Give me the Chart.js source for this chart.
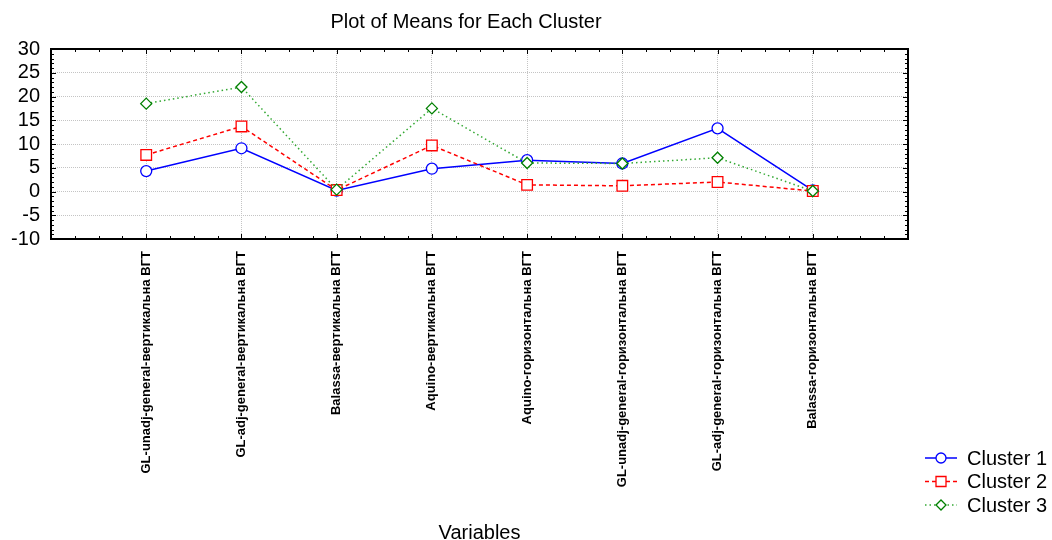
<!DOCTYPE html>
<html><head><meta charset="utf-8">
<script src="https://cdn.jsdelivr.net/npm/chart.js@4"></script>
<style>html,body{margin:0;padding:0;background:#fff}#wrap{width:1052px;height:540px}</style>
</head><body><div id="wrap"><canvas id="c"></canvas></div>
<script>
const categories = [
  'GL-unadj-general-вертикальна ВГТ',
  'GL-adj-general-вертикальна ВГТ',
  'Balassa-вертикальна ВГТ',
  'Aquino-вертикальна ВГТ',
  'Aquino-горизонтальна ВГТ',
  'GL-unadj-general-горизонтальна ВГТ',
  'GL-adj-general-горизонтальна ВГТ',
  'Balassa-горизонтальна ВГТ'
];
const cluster1 = [4.3, 9.1, 0.2, 4.8, 6.6, 5.9, 13.3, 0.25];
const cluster2 = [7.7, 13.7, 0.3, 9.7, 1.4, 1.2, 2.0, 0.1];
const cluster3 = [18.5, 22.0, 0.4, 17.5, 6.0, 5.9, 7.1, 0.1];
const seriesNames = ['Cluster 1', 'Cluster 2', 'Cluster 3'];
const yMin = -10, yMax = 30, yStep = 5;
const chartTitle = 'Plot of Means for Each Cluster';
const xTitle = 'Variables';

const FONT = 'Arial, "Liberation Sans", sans-serif';
const toPts = arr => arr.map((v, i) => ({x: i + 1, y: v}));
const xMaxV = categories.length + 1;

const framePlugin = {
  id: 'frame',
  afterDraw(chart) {
    const {ctx, chartArea: a, scales: {x, y}} = chart;
    ctx.save();
    ctx.strokeStyle = '#000';
    ctx.lineWidth = 1;
    const ln = (x1, y1, x2, y2) => { ctx.beginPath(); ctx.moveTo(x1, y1); ctx.lineTo(x2, y2); ctx.stroke(); };
    for (let k = 0; k <= xMaxV * 4; k++) {
      const v = k / 4;
      const px = Math.round(x.getPixelForValue(v)) + 0.5;
      const len = (k % 4 === 0) ? 5 : 3;
      ln(px, a.bottom, px, a.bottom - len);
      ln(px, a.top, px, a.top + len);
    }
    for (let v = yMin; v <= yMax; v++) {
      const py = Math.round(y.getPixelForValue(v)) + 0.5;
      const len = (v % yStep === 0) ? 5 : 3;
      ln(a.left, py, a.left + len, py);
      ln(a.right, py, a.right - len, py);
    }
    ctx.lineWidth = 2;
    ctx.strokeRect(a.left, a.top, a.right - a.left, a.bottom - a.top);
    // chart title
    ctx.fillStyle = '#000';
    ctx.font = '20px ' + FONT;
    ctx.textAlign = 'center';
    ctx.textBaseline = 'middle';
    ctx.fillText(chartTitle, 466, 22);
    ctx.restore();
  }
};

function drawMarker(ctx, style, cx, cy, color) {
  ctx.beginPath();
  if (style === 'circle') ctx.arc(cx, cy, 5, 0, Math.PI * 2);
  else if (style === 'rect') ctx.rect(cx - 5, cy - 5, 10, 10);
  else { ctx.moveTo(cx - 5, cy); ctx.lineTo(cx, cy - 5); ctx.lineTo(cx + 5, cy); ctx.lineTo(cx, cy + 5); ctx.closePath(); }
  ctx.fillStyle = '#fff'; ctx.fill();
  ctx.setLineDash([]); ctx.strokeStyle = color; ctx.lineWidth = 1.3; ctx.stroke();
}

const legendPlugin = {
  id: 'customLegend',
  afterDraw(chart) {
    const ctx = chart.ctx;
    ctx.save();
    chart.data.datasets.forEach((ds, i) => {
      const cy = 458 + i * 23.5;
      ctx.strokeStyle = ds.borderColor;
      ctx.lineWidth = ds.borderWidth;
      ctx.setLineDash(ds.borderDash || []);
      ctx.beginPath(); ctx.moveTo(925, cy); ctx.lineTo(957, cy); ctx.stroke();
      drawMarker(ctx, ds.pointStyle, 941, cy, ds.pointBorderColor);
      ctx.fillStyle = '#000';
      ctx.font = '20px ' + FONT;
      ctx.textBaseline = 'middle';
      ctx.textAlign = 'left';
      ctx.fillText(ds.label, 967, cy + 1);
    });
    ctx.restore();
  }
};

new Chart(document.getElementById('c'), {
  type: 'line',
  data: {
    datasets: [
      {label: seriesNames[0], data: toPts(cluster1), borderColor: '#0000ff', borderWidth: 1.5,
       pointStyle: 'circle', pointRadius: 5.5, pointBorderColor: '#0000ff', pointBackgroundColor: '#fff',
       pointBorderWidth: 1.3, order: 3},
      {label: seriesNames[1], data: toPts(cluster2), borderColor: '#ff0000', borderWidth: 1.5, borderDash: [4, 3],
       pointStyle: 'rect', pointRadius: 7.5, pointBorderColor: '#ff0000', pointBackgroundColor: '#fff',
       pointBorderWidth: 1.3, order: 2},
      {label: seriesNames[2], data: toPts(cluster3), borderColor: '#33a833', borderWidth: 1.5, borderDash: [1.5, 3],
       pointStyle: 'rectRot', pointRadius: 5.5, pointBorderColor: '#008000', pointBackgroundColor: '#fff',
       pointBorderWidth: 1.3, order: 1}
    ]
  },
  options: {
    responsive: true, maintainAspectRatio: false, animation: false,
    layout: {padding: {left: 8, right: 144, top: 49, bottom: 0}},
    plugins: {
      legend: {display: false},
      tooltip: {enabled: false},
      title: {display: false}
    },
    scales: {
      x: {
        type: 'linear', min: 0, max: xMaxV,
        afterFit(s) { s.height = 301; },
        border: {display: false, dash: [1, 1]},
        grid: {drawTicks: false, lineWidth: 1,
               color: c => (c.tick && c.tick.value >= 1 && c.tick.value <= categories.length) ? '#c4c4c4' : 'rgba(0,0,0,0)'},
        ticks: {stepSize: 1, autoSkip: false, maxRotation: 90, minRotation: 90, padding: 12,
                color: '#000', font: {family: FONT, size: 13, weight: 'bold'},
                callback: v => (Number.isInteger(v) && v >= 1 && v <= categories.length) ? categories[v - 1] : ''},
        title: {display: true, text: xTitle, color: '#000', font: {family: FONT, size: 20, lineHeight: 0.7},
                padding: {top: 0, bottom: 0}}
      },
      y: {
        min: yMin, max: yMax,
        afterFit(s) { s.width = 43; },
        border: {display: false, dash: [1, 1]},
        grid: {drawTicks: false, lineWidth: 1,
               color: c => (c.tick && c.tick.value > yMin && c.tick.value < yMax) ? '#c4c4c4' : 'rgba(0,0,0,0)'},
        ticks: {stepSize: yStep, autoSkip: false, padding: 11, color: '#000', font: {family: FONT, size: 20}}
      }
    }
  },
  plugins: [framePlugin, legendPlugin]
});
</script>
</body></html>
